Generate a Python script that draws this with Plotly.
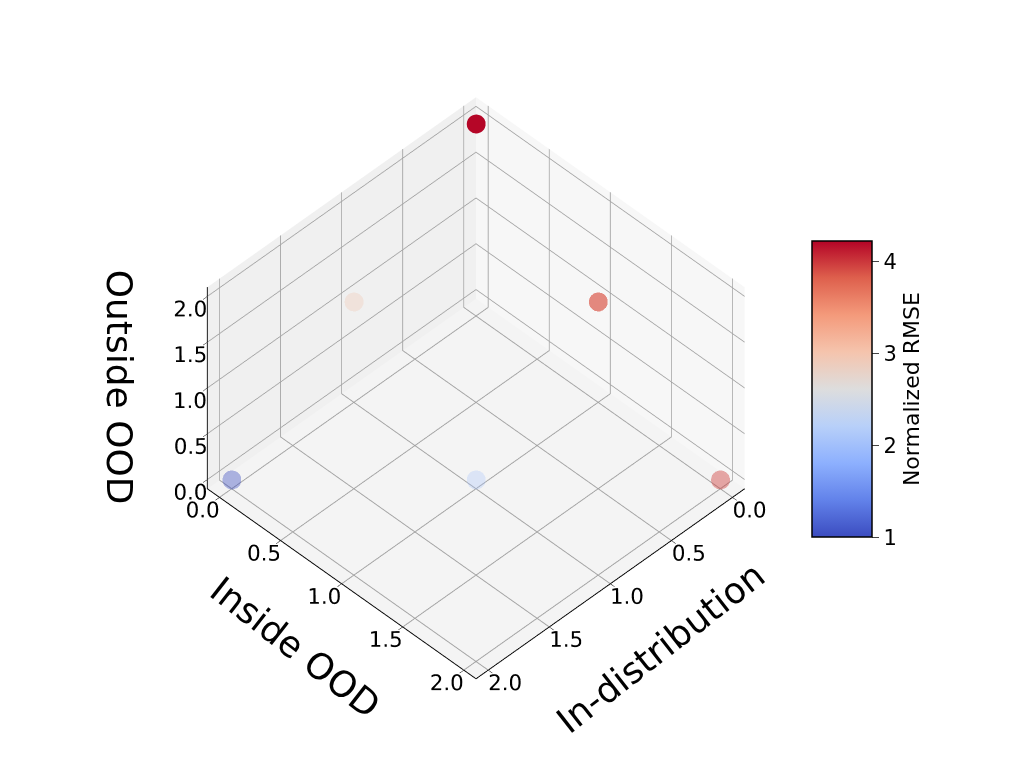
import numpy as np
import plotly.graph_objects as go

# simplex grid points (In-distribution, Inside OOD, Outside OOD)
in_dist = [0, 0, 0, 1, 1, 2]
inside_ood = [0, 1, 2, 0, 1, 0]
outside_ood = [2, 1, 0, 1, 0, 0]
norm_rmse = [4.21, 3.85, 3.95, 2.95, 2.0, 1.0]
# matplotlib depth shading
shade = [1.0, 0.7, 0.45, 0.35, 0.3, 0.4]

tick_vals = [0.0, 0.5, 1.0, 1.5, 2.0]
tick_text = ["0.0", "0.5", "1.0", "1.5", "2.0"]
cbar_ticks = [1, 2, 3, 4]

coolwarm = [
    [0.0, "rgb(59,76,192)"],
    [0.125, "rgb(98,130,234)"],
    [0.25, "rgb(141,176,254)"],
    [0.375, "rgb(184,208,249)"],
    [0.5, "rgb(221,221,221)"],
    [0.625, "rgb(245,196,173)"],
    [0.75, "rgb(244,154,123)"],
    [0.875, "rgb(222,96,77)"],
    [1.0, "rgb(180,4,38)"],
]

fig = go.Figure()
for i in range(len(norm_rmse)):
    fig.add_trace(go.Scatter3d(
        x=[in_dist[i]], y=[inside_ood[i]], z=[outside_ood[i]],
        mode="markers",
        marker=dict(size=11, color=[norm_rmse[i]], coloraxis="coloraxis"),
        opacity=shade[i],
        showlegend=False,
        hoverinfo="skip",
    ))

def axis(bg):
    return dict(
        title=dict(text=""),
        range=[-0.1, 2.1],
        tickvals=tick_vals, ticktext=tick_text,
        tickfont=dict(size=16, color="black"),
        tickangle=0,
        gridcolor="#a3a3a3", gridwidth=2,
        showbackground=True, backgroundcolor=bg,
        showline=True, linecolor="black", linewidth=2,
        ticks="outside", tickcolor="black", ticklen=6,
        zeroline=False, showspikes=False,
    )

# axis titles placed like matplotlib's (rotated along the box edges)
titles = [
    dict(text="In-distribution", x=0.636, y=0.169, textangle=-38),
    dict(text="Inside OOD", x=0.280, y=0.170, textangle=38),
    dict(text="Outside OOD", x=0.108, y=0.507, textangle=90),
]

fig.update_layout(
    width=1027, height=770,
    paper_bgcolor="white",
    font=dict(family="DejaVu Sans", color="black"),
    margin=dict(l=0, r=0, t=0, b=0),
    scene=dict(
        domain=dict(x=[0.0, 0.911], y=[0.013, 1.0]),
        xaxis=axis("rgb(247,247,247)"),
        yaxis=axis("rgb(240,240,240)"),
        zaxis=axis("rgb(244,244,244)"),
        aspectmode="manual",
        aspectratio=dict(x=1, y=1, z=0.75),
        camera=dict(
            eye=dict(x=1.35, y=1.35, z=1.91),
            center=dict(x=0, y=0, z=0),
            up=dict(x=0, y=0, z=1),
            projection=dict(type="orthographic"),
        ),
    ),
    annotations=[
        dict(text=t["text"], x=t["x"], y=t["y"], xref="paper", yref="paper",
             textangle=t["textangle"], showarrow=False,
             xanchor="center", yanchor="middle",
             font=dict(size=36, color="black", family="DejaVu Sans"))
        for t in titles
    ],
    coloraxis=dict(
        colorscale=coolwarm, cmin=1.0, cmax=4.22,
        colorbar=dict(
            x=0.783, xanchor="left", xpad=0,
            y=0.505, yanchor="middle", ypad=0,
            len=0.385, thickness=60,
            outlinewidth=1.5, outlinecolor="black",
            tickvals=cbar_ticks, ticks="outside", ticklen=7,
            tickfont=dict(size=21),
            title=dict(text="Normalized RMSE", side="right", font=dict(size=22)),
        ),
    ),
)

fig.write_html("out.html")
